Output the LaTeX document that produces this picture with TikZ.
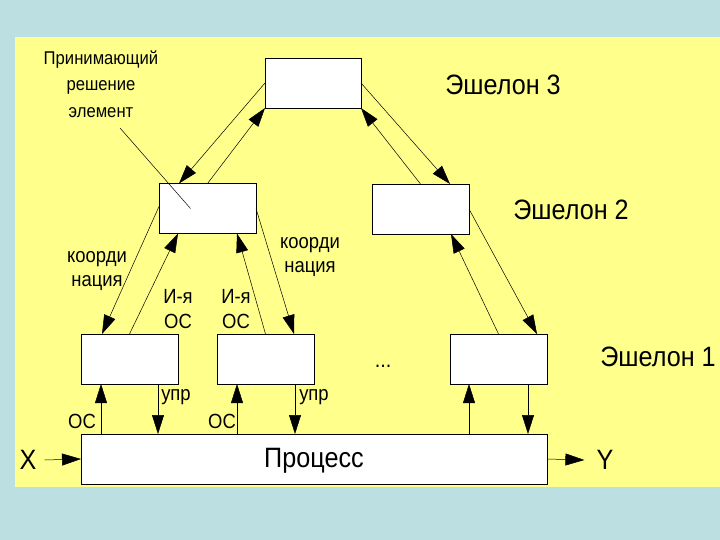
\documentclass[tikz,border=0pt]{standalone}
\usepackage{fontspec}
\setmainfont{Liberation Sans}[FakeStretch=0.9]
\usetikzlibrary{arrows.meta,calc}
\definecolor{bgblue}{RGB}{188,224,226}
\definecolor{slideyellow}{RGB}{255,255,140}
\tikzset{
  box/.style={draw=black, line width=0.6pt, fill=white, minimum width=97pt, minimum height=50pt, inner sep=0pt, outer sep=0pt},
  conn/.style={line width=0.5pt, -{Triangle[length=19pt,width=12pt]}},
  big/.style={font=\fontsize{28}{32}\selectfont, inner sep=0pt},
  small/.style={font=\fontsize{20.5}{24.5}\selectfont, inner sep=0pt, align=center},
}
\begin{document}
\begin{tikzpicture}[x=1pt,y=-1pt]
\fill[bgblue] (0,0) rectangle (720,540);
\fill[slideyellow] (15,37) rectangle (720,487);
\useasboundingbox (0,0) rectangle (720,540);

% boxes
\node[box, minimum width=96pt] (e3) at (313,83) {};
\node[box] (e2a) at (207.5,208.5) {};
\node[box] (e2b) at (420.5,209) {};
\node[box] (e1a) at (129.5,359) {};
\node[box] (e1b) at (265.5,359) {};
\node[box] (e1c) at (498.5,359) {};
\node[box, minimum width=466pt] (proc) at (314,459) {};
\node[big] (proctxt) at ($(proc.center)+(0,2)$) {Процесс};

% level labels
\node[big] (l3) at (503,85) {Эшелон 3};
\node[big] (l2) at (571,210) {Эшелон 2};
\node[big] (l1) at (658,357) {Эшелон 1};
\node[font=\fontsize{22}{24}\selectfont] (dots) at (383,366) {...};

% decision element label
\node[small, font=\fontsize{18.5}{26.5}\selectfont] (dm) at (101,84) {Принимающий\\решение\\элемент};
\coordinate (dmend) at (120,128);
\coordinate (dmin) at ($(e2a.center)+(-17,0)$);
\draw[line width=0.5pt] (dmend) -- (dmin);

% X and Y
\node[big] (X) at (28,460) {X};
\node[big] (Y) at (605,460) {Y};
\draw[conn] ($(X.east)+(8,0)$) -- (proc.west);
\draw[conn] (proc.east) -- ($(Y.west)+(-12,0)$);

% Echelon 3 <-> Echelon 2
\draw[conn] (e3.west) -- ($(e2a.north west)+(20,0)$);
\draw[conn] (e2a.north) -- (e3.south west);
\draw[conn] (e3.east) -- ($(e2b.north east)+(-19,0)$);
\draw[conn] (e2b.north) -- (e3.south east);

% Echelon 2 <-> Echelon 1
\draw[conn] ($(e2a.north west)+(0,23)$) -- ($(e1a.north west)+(21,0)$);
\draw[conn] (e1a.north) -- ($(e2a.south west)+(19,0)$);
\draw[conn] (e1b.north) -- ($(e2a.south east)+(-19,0)$);
\draw[conn] (e2a.east) -- ($(e1b.north east)+(-20,0)$);
\draw[conn] (e2b.east) -- ($(e1c.north east)+(-10,0)$);
\draw[conn] (e1c.north) -- ($(e2b.south east)+(-18,0)$);

% Echelon 1 <-> process
\draw[conn] ($(proc.north west)+(20,0)$) -- ($(e1a.south west)+(20,0)$);
\draw[conn] ($(e1a.south east)+(-20,0)$) -- ($(proc.north west)+(77,0)$);
\draw[conn] ($(proc.north west)+(156,0)$) -- ($(e1b.south west)+(20,0)$);
\draw[conn] ($(e1b.south east)+(-19,0)$) -- ($(proc.north west)+(214,0)$);
\draw[conn] ($(proc.north west)+(388,0)$) -- ($(e1c.south west)+(19,0)$);
\draw[conn] ($(e1c.south east)+(-19,0)$) -- ($(proc.north west)+(447,0)$);

% small labels
\node[small] (k1) at (97,271) {коорди\\нация};
\node[small] (k2) at (310,257) {коорди\\нация};
\node[small] (io1) at (178,309) {И-я\\ОС};
\node[small] (io2) at (236,309) {И-я\\ОС};
\node[small] (oc1) at (82,421) {ОС};
\node[small] (u1) at (176,397) {упр};
\node[small] (oc2) at (222,421) {ОС};
\node[small] (u2) at (314,397) {упр};
\end{tikzpicture}
\end{document}
